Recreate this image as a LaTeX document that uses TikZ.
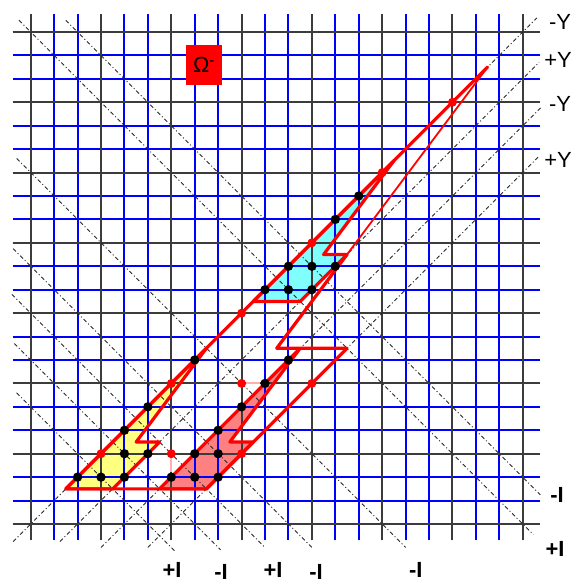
\documentclass[tikz,border=0pt]{standalone}
\usepackage{fontspec}
\setmainfont{Liberation Sans}
\definecolor{ylw}{RGB}{255,255,128}
\definecolor{pnk}{RGB}{255,128,128}
\definecolor{cyn}{RGB}{128,255,255}
\definecolor{gblue}{RGB}{0,0,255}
\definecolor{gblack}{RGB}{60,60,60}
\definecolor{palered}{RGB}{255,175,175}
\begin{document}
\begin{tikzpicture}[x=23.43bp,y=23.43bp,
 gline/.style={draw=gblue,line width=1.9bp},
 kline/.style={draw=gblack,line width=2bp},
 diag/.style={draw=black!85,line width=0.9pt,dash pattern=on 4pt off 2.5pt on 1pt off 2.5pt},
 boltline/.style={draw=red,line width=3.2pt,line join=round,line cap=round},
 thinbolt/.style={draw=red,line width=1.8pt,line cap=round},
 paleline/.style={draw=palered,line width=2pt},
 bdot/.style={circle,fill=black,inner sep=0pt,minimum size=9.4pt},
 rdot/.style={circle,fill=red,inner sep=0pt,minimum size=9pt},
 ylab/.style={font=\fontsize{22}{22}\selectfont,inner sep=0pt},
 ilab/.style={font=\bfseries\fontsize{22}{22}\selectfont,inner sep=0pt},
 omegabox/.style={fill=red,minimum width=36bp,minimum height=40bp,inner sep=0pt,font=\fontsize{22}{22}\selectfont}
]
% page = 575 x 583 px; grid origin at pixel (30.7, 524)
\useasboundingbox (-1.310286,-2.518139) rectangle (23.230901,22.364490);
\fill[white] (-1.310286,-2.518139) rectangle (23.230901,22.364490);
% coloured fills (under the grid)
\fill[ylw] (1.5,1.5) -- (3.5,1.5) -- (5.5,3.5) -- (4.5,3.5) -- (7.5,7.5) -- cycle;
\fill[pnk] (5.5,1.5) -- (7.5,1.5) -- (9.5,3.5) -- (8.5,3.5) -- (11.5,7.5) -- cycle;
\fill[cyn] (9.5,9.5) -- (11.5,9.5) -- (13.5,11.5) -- (12.5,11.5) -- (15.5,15.5) -- cycle;
% grid, snapped to whole pixels
\foreach \k in {0,...,21} {
  \pgfmathsetmacro\gx{(round(30.7+23.43*\k)-30.7)/23.43}
  \pgfmathsetmacro\gy{(524-round(524-23.43*\k))/23.43}
  \draw[gline] (\gx,-0.7) -- (\gx,21.77);
  \draw[gline] (-0.77,\gy) -- (21.74,\gy);
}
\foreach \k in {0,3,...,21} {
  \pgfmathsetmacro\gx{(round(30.7+23.43*\k)-30.7)/23.43}
  \pgfmathsetmacro\gy{(524-round(524-23.43*\k))/23.43}
  \draw[kline] (\gx,-0.7) -- (\gx,21.77);
  \draw[kline] (-0.77,\gy) -- (21.74,\gy);
}
% dash-dot diagonals (down-right)
\draw[diag] (-0.6,5.6) -- (6.15,-1.15);
\draw[diag] (-0.7,7.7) -- (8.1,-1.1);
\draw[diag] (-0.8,9.8) -- (10,-1);
\draw[diag] (-0.75,11.75) -- (12,-1);
\draw[diag] (-0.6,15.6) -- (16,-1);
\draw[diag] (-0.5,21.5) -- (21.45,-0.45);
\draw[diag] (1.5,21.5) -- (21.75,1.25);
% dash-dot diagonals (up-right)
\draw[diag] (-0.75,-0.75) -- (21.6,21.6);
\draw[diag] (1.25,-0.75) -- (21.7,19.7);
\draw[diag] (3,-1) -- (21.8,17.8);
\draw[diag] (5,-1) -- (21.7,15.7);
% bolt outlines
\draw[thinbolt] (19.5,19.5) -- (13.5,11.5);
\draw[boltline] (13.5,11.5) -- (10.5,7.5) -- (13.5,7.5) -- (7.5,1.5) -- (1.5,1.5) -- (19.5,19.5);
\draw[boltline] (1.5,1.5) -- (3.5,1.5) -- (5.5,3.5) -- (4.5,3.5) -- (7.5,7.5) -- cycle;
\draw[boltline] (5.5,1.5) -- (7.5,1.5) -- (9.5,3.5) -- (8.5,3.5) -- (11.5,7.5) -- cycle;
\draw[boltline] (9.5,9.5) -- (11.5,9.5) -- (13.5,11.5) -- (12.5,11.5) -- (15.5,15.5) -- cycle;
% black dots
\foreach \p [count=\n] in {(2,2),(3,2),(4,2),(4,3),(5,3),(4,4),(5,5),(7,7),
  (6,2),(7,2),(8,2),(7,3),(8,3),(8,4),(9,5),(10,6),(11,7),
  (10,10),(11,10),(12,10),(11,11),(12,11),(13,11),(13,13),(14,14)}
  \node[bdot] (b\n) at \p {};
% red dots
\foreach \p [count=\n] in {(3,3),(6,6),(9,9),(12,12),(15,15),(18,18),(9,3),(12,6)}
  \node[rdot] (r\n) at \p {};
\node[rdot] (ra) at (6,3) {};
\node[rdot] (rb) at (9,6) {};
\draw[paleline] (ra) -- (b9);
\draw[paleline] (rb) -- (b16);
% Omega box
\node[omegabox] (omega) at (7.397,19.59) {Ω\textsuperscript{-}};
% labels
\node[ylab] (y1) at (22.59,21.43) {-Y};
\node[ylab] (y2) at (22.51,19.80) {+Y};
\node[ylab] (y3) at (22.59,17.93) {-Y};
\node[ylab] (y4) at (22.51,15.54) {+Y};
\node[ilab] (i1) at (6.03,-1.96) {+I};
\node[ilab] (i2) at (8.12,-2.05) {-I};
\node[ilab] (i3) at (10.34,-1.96) {+I};
\node[ilab] (i4) at (12.18,-2.05) {-I};
\node[ilab] (i5) at (16.44,-1.96) {-I};
\node[ilab] (i6) at (22.46,1.24) {-I};
\node[ilab] (i7) at (22.38,-1.07) {+I};
\end{tikzpicture}
\end{document}
